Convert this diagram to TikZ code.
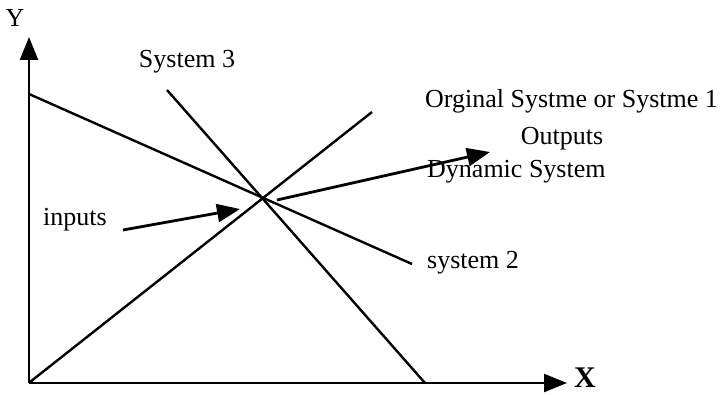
\documentclass[tikz,border=0pt]{standalone}
\usepackage{fontspec}
\setmainfont{Liberation Serif}
\usetikzlibrary{arrows.meta}
\begin{document}
\begin{tikzpicture}[x=1pt,y=-1pt,
  lbl/.style={inner sep=0pt,font=\fontsize{26}{28}\selectfont},
  ln/.style={line width=2.4pt},
  axis/.style={line width=2.4pt,-{Triangle[length=23pt,width=18pt]}},
  bigarrow/.style={line width=2.8pt,-{Triangle[length=23pt,width=18pt]}}]
\useasboundingbox (0,0) rectangle (724,395);
% axes
\coordinate (O) at (29,383);
\coordinate (ytip) at (29,37);
\coordinate (xtip) at (567,383);
\draw[axis] (O) -- (ytip);
\draw[axis] (O) -- (xtip);
\node[lbl] (Y) at (15,18) {Y};
\node[inner sep=0pt,font=\fontsize{30}{32}\selectfont\bfseries] (X) at (585,378) {X};
% lines
\coordinate (s1a) at (30,382);
\coordinate (s1b) at (372,112);
\coordinate (s2a) at (29,94);
\coordinate (s2b) at (412,264);
\coordinate (s3a) at (167,90);
\coordinate (s3b) at (425,383);
\draw[ln] (s1a) -- (s1b);
\draw[ln] (s2a) -- (s2b);
\draw[ln] (s3a) -- (s3b);
% arrows
\coordinate (outA) at (277,200);
\coordinate (outB) at (490,152);
\draw[bigarrow] (outA) -- (outB);
\coordinate (inA) at (123,230);
\coordinate (inB) at (240,209);
\draw[bigarrow] (inA) -- (inB);
% labels
\node[lbl] (sys3) at (187,62) {System 3};
\node[lbl,anchor=west] (orig) at (425,101) {Orginal Systme or Systme 1};
\node[lbl] (outs) at (562,139) {Outputs};
\node[lbl,anchor=west] (dyn) at (427,172) {Dynamic System};
\node[lbl] (inp) at (75,220) {inputs};
\node[lbl,anchor=west] (sys2) at (427,263) {system 2};
\end{tikzpicture}
\end{document}
